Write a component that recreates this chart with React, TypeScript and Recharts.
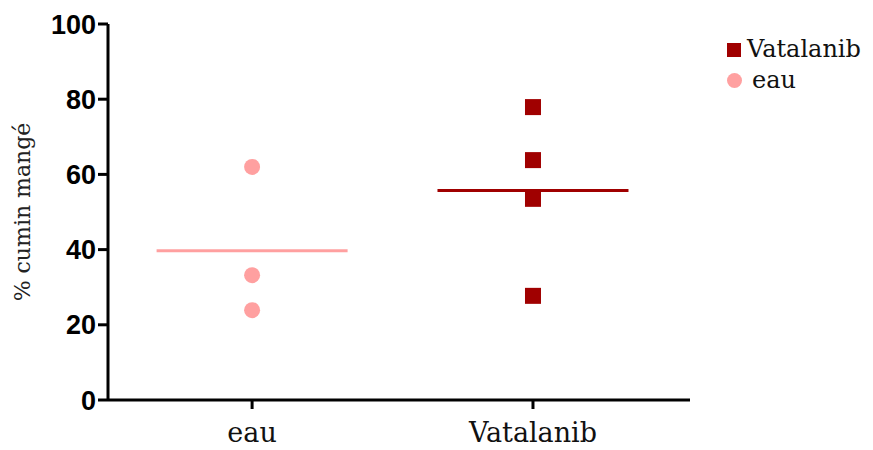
import React from 'react';
import { ComposedChart, Scatter, XAxis, YAxis, ReferenceLine } from 'recharts';

const categories = ['eau', 'Vatalanib'];
const eauValues = [62, 33.2, 23.9];
const vatalanibValues = [77.9, 63.8, 53.5, 27.7];
const yTicks = [0, 20, 40, 60, 80, 100];

const PINK = '#ffa0a0';
const DARK = '#a00000';
const SERIF = '"DejaVu Serif", serif';

const eauData = eauValues.map((v) => ({ x: 1, y: v }));
const vatalanibData = vatalanibValues.map((v) => ({ x: 2, y: v }));
const mean = (arr: number[]) => arr.reduce((a, b) => a + b, 0) / arr.length;

const CircleShape = (props: any) => <circle cx={props.cx} cy={props.cy} r={8} fill={PINK} />;
const SquareShape = (props: any) => (
  <rect x={props.cx - 8} y={props.cy - 8} width={16} height={16} fill={DARK} />
);

// legend drawn as an overlay so it does not eat plot space
const LegendBox = () => (
  <div
    style={{
      position: 'absolute',
      left: 727,
      top: 34,
      fontFamily: SERIF,
      fontSize: 24,
      color: '#111',
      lineHeight: '31px',
    }}
  >
    <div style={{ display: 'flex', alignItems: 'center' }}>
      <span style={{ width: 14, height: 14, background: DARK, display: 'inline-block', marginRight: 6 }} />
      Vatalanib
    </div>
    <div style={{ display: 'flex', alignItems: 'center' }}>
      <span style={{ width: 15, height: 15, borderRadius: '50%', background: PINK, display: 'inline-block', marginRight: 10 }} />
      eau
    </div>
  </div>
);

const YLabel = () => (
  <text x={30} y={212} transform="rotate(-90 30 212)" textAnchor="middle" fontFamily={SERIF} fontSize={22} fill="#222">
    % cumin mangé
  </text>
);

export default function App() {
  const half = 0.34;
  const eauMean = mean(eauValues);
  const vatMean = mean(vatalanibValues);
  return (
    <div style={{ position: 'absolute', left: 0, top: 0, background: '#fff', width: 873, height: 450 }}>
      <ComposedChart width={873} height={450} margin={{ top: 24, right: 183, bottom: 0, left: 0 }}>
        <XAxis
          type="number"
          dataKey="x"
          domain={[0.487, 2.559]}
          ticks={[1, 2]}
          tickFormatter={(v: number) => categories[v - 1]}
          axisLine={{ stroke: '#000', strokeWidth: 3 }}
          tickLine={{ stroke: '#000', strokeWidth: 3 }}
          tickSize={9}
          height={50}
          tick={{ fontFamily: SERIF, fontSize: 27, fill: '#111', dy: 12 }}
          allowDataOverflow
        />
        <YAxis
          type="number"
          dataKey="y"
          domain={[0, 100]}
          ticks={yTicks}
          width={108}
          axisLine={{ stroke: '#000', strokeWidth: 3 }}
          tickLine={{ stroke: '#000', strokeWidth: 3 }}
          tickSize={10}
          tick={{ fontFamily: '"Liberation Sans", Arial, sans-serif', fontSize: 27, fontWeight: 'bold', fill: '#000' }}
          label={{ content: () => <YLabel /> }}
        />
        <ReferenceLine
          segment={[{ x: 1 - half, y: eauMean }, { x: 1 + half, y: eauMean }]}
          stroke={PINK}
          strokeWidth={3}
        />
        <ReferenceLine
          segment={[{ x: 2 - half, y: vatMean }, { x: 2 + half, y: vatMean }]}
          stroke={DARK}
          strokeWidth={3}
        />
        <Scatter name="eau" data={eauData} shape={<CircleShape />} isAnimationActive={false} />
        <Scatter name="Vatalanib" data={vatalanibData} shape={<SquareShape />} isAnimationActive={false} />
      </ComposedChart>
      <LegendBox />
    </div>
  );
}
